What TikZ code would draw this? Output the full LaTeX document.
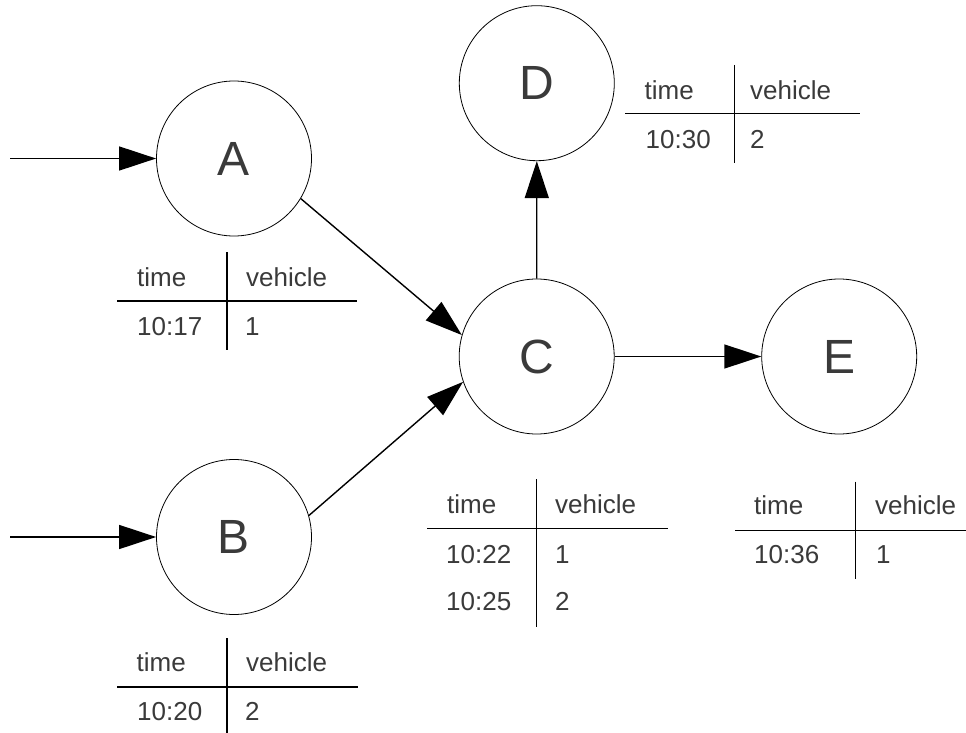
\documentclass[tikz,border=0pt]{standalone}
\usepackage{fontspec}
\setmainfont{Liberation Sans}
\usetikzlibrary{arrows.meta}
\definecolor{txt}{HTML}{3A3A3A}
\tikzset{
  state/.style={circle, draw=black, line width=0.8pt, minimum size=155pt, inner sep=0pt,
    font=\fontsize{48}{52}\selectfont, text=txt},
  conn/.style={line width=1.4pt, -{Triangle[length=37pt,width=24pt]}},
  cell/.style={anchor=base west, inner sep=0pt, font=\fontsize{26}{30}\selectfont, text=txt},
  rule/.style={line width=1.1pt}
}
\begin{document}
\begin{tikzpicture}[x=1pt,y=-1pt]
\useasboundingbox[fill=white] (0,0) rectangle (966,733);
% states
\node[state] (A) at (234,158.5) {A};
\node[state] (B) at (234,537) {B};
\node[state] (C) at (536.7,356.5) {C};
\node[state] (D) at (536.8,83.2) {D};
\node[state] (E) at (839.2,356.5) {E};
\coordinate (inA) at (10,158.5);
\coordinate (inB) at (10,537);
% connectors
\draw[conn] (inA) -- (A.west);
\draw[conn] (inB) -- (B.west);
\draw[conn] (A.-31) -- (C.164);
\draw[conn] (B.16) -- (C.-161.5);
\draw[conn] (C.north) -- (D.south);
\draw[conn] (C.east) -- (E.west);
% table A
\draw[rule] (117,301) -- (357,301);
\draw[rule] (227,252) -- (227,350);
\node[cell] (tAh1) at (137,286.5) {time};
\node[cell] (tAh2) at (246,286.5) {vehicle};
\node[cell] (tAr1) at (137,335) {10:17};
\node[cell] (tAr2) at (245,335) {1};
% table B
\draw[rule] (117,687) -- (358,687);
\draw[rule] (227,638) -- (227,733);
\node[cell] (tBh1) at (136.5,671.5) {time};
\node[cell] (tBh2) at (246,671.5) {vehicle};
\node[cell] (tBr1) at (137,720) {10:20};
\node[cell] (tBr2) at (245,720) {2};
% table D
\draw[rule] (625,113.5) -- (860,113.5);
\draw[rule] (734.5,65) -- (734.5,163);
\node[cell] (tDh1) at (644.5,99.3) {time};
\node[cell] (tDh2) at (750,99.3) {vehicle};
\node[cell] (tDr1) at (645.5,148.3) {10:30};
\node[cell] (tDr2) at (750,148.3) {2};
% table C
\draw[rule] (427,528.3) -- (668,528.3);
\draw[rule] (536.7,479) -- (536.7,627);
\node[cell] (tCh1) at (447,513.3) {time};
\node[cell] (tCh2) at (555,513.3) {vehicle};
\node[cell] (tCr1) at (446,563) {10:22};
\node[cell] (tCr2) at (555,563) {1};
\node[cell] (tCr3) at (446,610) {10:25};
\node[cell] (tCr4) at (555,610) {2};
% table E
\draw[rule] (735,530.7) -- (966,530.7);
\draw[rule] (855.3,481.7) -- (855.3,579.3);
\node[cell] (tEh1) at (754,514) {time};
\node[cell] (tEh2) at (875,514) {vehicle};
\node[cell] (tEr1) at (754,563.3) {10:36};
\node[cell] (tEr2) at (876,563.3) {1};
\end{tikzpicture}
\end{document}
